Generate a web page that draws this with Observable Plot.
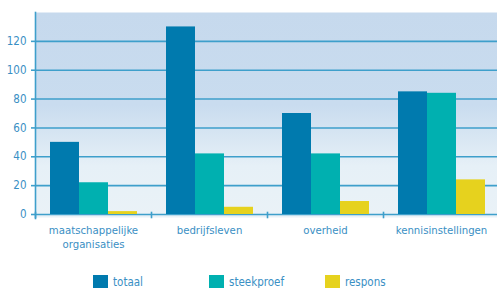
<!DOCTYPE html>
<html>
<head>
<meta charset="utf-8">
<script src="https://cdn.jsdelivr.net/npm/d3@7"></script>
<script src="https://cdn.jsdelivr.net/npm/@observablehq/plot@0.6"></script>
<style>
  html, body { margin: 0; padding: 0; background: #ffffff; overflow: hidden; }
  #chart { width: 497px; height: 288px; position: relative; overflow: hidden; }
  .legend { position: relative; height: 20px; padding-top: 4px; display: flex; padding-left: 93px;
            font-family: "DejaVu Sans Condensed", "DejaVu Sans", sans-serif; font-size: 11.5px; color: #3a8fc4; }
  .legend .item { width: 116px; display: flex; align-items: center; }
  .legend .sw { width: 15px; height: 15px; margin-right: 5px; flex: none; }
</style>
</head>
<body>
<div id="chart"></div>
<script>
const categories = ["maatschappelijke\norganisaties", "bedrijfsleven", "overheid", "kennisinstellingen"];
const series = ["totaal", "steekproef", "respons"];
const totaal = [50, 130, 70, 85];
const steekproef = [22, 42, 42, 84];
const respons = [2, 5, 9, 24];
const yTicks = [0, 20, 40, 60, 80, 100, 120];
const colors = ["#007aae", "#00b0b0", "#e6d21e"];

const values = {totaal, steekproef, respons};
const data = [];
categories.forEach((c, i) => series.forEach(s => data.push({category: c, series: s, value: values[s][i]})));

const textColor = "#3a8fc4";
const gridColor = "#3e9fcb";

const plot = Plot.plot({
  width: 499,
  height: 268,
  marginTop: 12,
  marginBottom: 54,
  marginLeft: 35,
  marginRight: 0,
  style: {fontFamily: "'DejaVu Sans Condensed', 'DejaVu Sans', sans-serif", color: textColor, background: "transparent", maxWidth: "none"},
  fx: {domain: categories, padding: 0},
  x: {domain: series, paddingInner: 0, paddingOuter: 0.45},
  y: {domain: [0, 140]},
  color: {domain: series, range: colors},
  marks: [
    Plot.frame({fill: "url(#sky)", stroke: "none", facet: "super", insetBottom: -3}),
    Plot.ruleY(yTicks, {stroke: gridColor, strokeWidth: 1.6}),
    Plot.barY(data, {fx: "category", x: "series", y: "value", fill: "series"}),
    Plot.frame({anchor: "left", facetAnchor: "left", stroke: gridColor, strokeWidth: 1.6, insetBottom: -4}),
    Plot.frame({anchor: "left", stroke: gridColor, strokeWidth: 1.6, insetTop: 200, insetBottom: -3}),
    Plot.axisY({ticks: yTicks, tickSize: 4, tickPadding: 5, stroke: gridColor, strokeWidth: 1.6, fontSize: 11.5, fill: textColor, label: null}),
    Plot.axisX({ticks: [], label: null}),
    Plot.axisFx({anchor: "bottom", tickSize: 0, tickPadding: 9, fontSize: 11.3, lineHeight: 1.25, fill: textColor, label: null})
  ]
});

const ns = "http://www.w3.org/2000/svg";
const defs = document.createElementNS(ns, "defs");
defs.innerHTML = `<linearGradient id="sky" x1="0" y1="0" x2="0" y2="1">
  <stop offset="0" stop-color="#c6d9ed"/>
  <stop offset="0.45" stop-color="#c9dcef"/>
  <stop offset="0.62" stop-color="#d9e7f3"/>
  <stop offset="0.75" stop-color="#e6f0f7"/>
  <stop offset="1" stop-color="#eaf2f7"/>
</linearGradient>`;
plot.insertBefore(defs, plot.firstChild);

const chart = document.getElementById("chart");
chart.appendChild(plot);

const legend = document.createElement("div");
legend.className = "legend";
series.forEach((s, i) => {
  const item = document.createElement("div");
  item.className = "item";
  const sw = document.createElement("span");
  sw.className = "sw";
  sw.style.background = colors[i];
  const t = document.createElement("span");
  t.textContent = s;
  item.appendChild(sw);
  item.appendChild(t);
  legend.appendChild(item);
});
chart.appendChild(legend);
</script>
</body>
</html>
